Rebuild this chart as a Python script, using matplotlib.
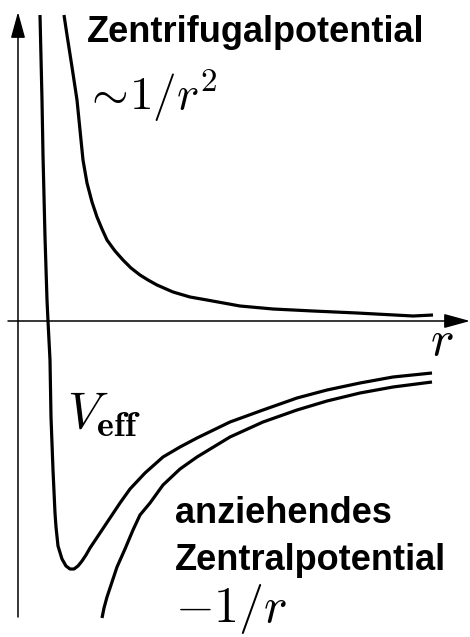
import matplotlib
matplotlib.use("Agg")
import matplotlib.pyplot as plt

plt.rcParams['mathtext.fontset'] = 'cm'

# centrifugal potential ~ 1/r^2
r_zf = [0.46, 0.49, 0.54, 0.59, 0.62, 0.65, 0.69, 0.74, 0.79, 0.84, 0.89, 0.97,
        1.05, 1.13, 1.22, 1.30, 1.39, 1.55, 1.72, 1.89, 2.22, 2.55, 2.95, 3.39,
        3.95, 4.15]
v_zf = [3.06, 2.86, 2.54, 2.21, 1.91, 1.61, 1.38, 1.19, 1.04, 0.92, 0.81, 0.70,
        0.61, 0.53, 0.46, 0.41, 0.36, 0.29, 0.24, 0.21, 0.15, 0.12, 0.10, 0.08,
        0.05, 0.06]

# effective potential
r_eff = [0.22, 0.24, 0.25, 0.27, 0.29, 0.30, 0.32, 0.33, 0.35, 0.37, 0.38, 0.40,
         0.44, 0.48, 0.52, 0.56, 0.60, 0.64, 0.68, 0.72, 0.82, 0.92, 1.02, 1.12,
         1.27, 1.45, 1.62, 1.79, 2.12, 2.45, 2.79, 3.09, 3.42, 3.75, 4.14]
v_eff = [3.06, 2.21, 1.66, 0.84, 0.21, 0.00, -0.39, -0.96, -1.49, -1.92, -2.06, -2.25,
         -2.38, -2.45, -2.48, -2.48, -2.45, -2.40, -2.34, -2.27, -2.12, -1.97, -1.82, -1.68,
         -1.52, -1.36, -1.26, -1.17, -1.01, -0.89, -0.77, -0.69, -0.62, -0.56, -0.52]

# attractive central potential -1/r
r_zp = [0.84, 0.86, 0.89, 0.94, 0.99, 1.07, 1.15, 1.22, 1.32, 1.45, 1.62, 1.79,
        2.12, 2.45, 2.79, 3.09, 3.42, 3.75, 4.14]
v_zp = [-2.97, -2.87, -2.76, -2.61, -2.46, -2.28, -2.09, -1.94, -1.82, -1.64, -1.48, -1.36,
        -1.16, -1.01, -0.89, -0.80, -0.72, -0.66, -0.61]

fig = plt.figure(figsize=(4.7, 6.37), dpi=100)
ax = fig.add_axes([0, 0, 1, 1])
ax.set_xlim(-0.18, 4.52)
ax.set_ylim(-3.16, 3.21)
ax.axis('off')

# axes with arrow heads
arrow = dict(arrowstyle='-|>,head_length=0.8,head_width=0.22', lw=1.1,
             color='black', mutation_scale=20, shrinkA=0, shrinkB=0)
ax.annotate('', xy=(0, 3.09), xytext=(0, -2.96), arrowprops=arrow)
ax.annotate('', xy=(4.52, 0), xytext=(-0.10, 0), arrowprops=arrow)

line = dict(color='black', lw=2.3, solid_capstyle='butt', solid_joinstyle='round')
ax.plot(r_zf, v_zf, **line)
ax.plot(r_eff, v_eff, **line)
ax.plot(r_zp, v_zp, **line)

sans = dict(family='Liberation Sans', weight='bold', fontsize=26, va='baseline')
ax.text(0.69, 2.79, 'Zentrifugalpotential', **sans)
ax.text(1.57, -2.02, 'anziehendes', **sans)
ax.text(1.57, -2.49, 'Zentralpotential', **sans)

ax.text(0.65, 2.11, r'${\sim}\!1/r^2$', fontsize=34, va='baseline')
ax.text(1.57, -3.01, r'$-1/r$', fontsize=36, va='baseline')
ax.text(0.49, -1.07, r'$V_{\mathbf{eff}}$', fontsize=37, va='baseline')
ax.text(4.12, -0.34, r'$r$', fontsize=36, va='baseline')

fig.savefig('out.png', dpi=100)
